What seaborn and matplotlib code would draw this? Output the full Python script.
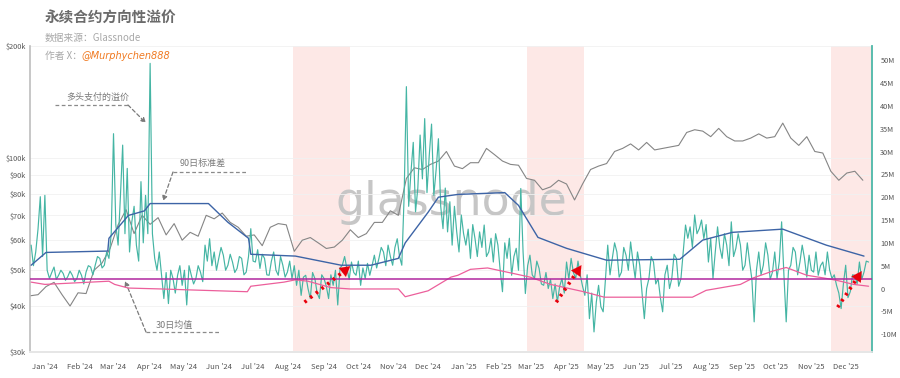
import matplotlib
matplotlib.use("Agg")
import pandas as pd
import matplotlib.pyplot as plt
import matplotlib.dates as mdates
from matplotlib.lines import Line2D
from matplotlib.ticker import FixedLocator, FuncFormatter, MultipleLocator, NullLocator
import seaborn as sns


# =============================================================================
# Data
# =============================================================================

# BTC price, $k, weekly from 2023-12-19
btc_price = [42.5, 42.8, 45.0, 46.2, 42.8, 39.9, 43.3,
             43.1, 49.8, 52.1, 57.0,
             66.0, 72.5, 62.5, 70.0,
             66.2, 69.0, 62.0, 66.5, 60.0,
             63.0, 61.5, 70.0, 68.5,
             71.0, 67.0, 65.0, 61.5,
             62.0, 58.0, 65.0, 66.5, 66.0,
             56.0, 60.0, 61.0, 59.0,
             57.0, 57.5, 60.0, 64.0,
             61.0, 62.5, 67.0, 67.0, 72.0,
             70.0, 88.0, 94.0, 93.0,
             96.0, 98.0, 104.0, 95.0, 93.5,
             97.0, 97.0, 106.0, 102.0,
             98.0, 96.0, 95.5, 88.0,
             87.0, 82.0, 83.5, 87.0,
             85.0, 77.0, 85.0, 93.0, 95.0,
             96.5, 104.0, 106.0, 109.0,
             105.0, 110.0, 105.0, 106.0,
             107.0, 108.0, 117.0, 119.0, 118.0,
             114.0, 120.0, 114.0, 111.0,
             111.0, 113.0, 116.0, 113.0, 114.0,
             124.0, 113.0, 108.0, 114.0,
             104.0, 103.0, 92.0, 87.0,
             91.0, 92.0, 87.0]

# directional premium paid by longs, $M, every 2 days from 2023-12-20
premium = [
    9.5, 5.0, 8.0, 13.0, 20.1, 7.0, 20.4, 4.0, 2.2, 3.5,
    4.7, 2.0, 2.9, 4.0, 3.3, 1.8, 2.6, 3.8, 2.9, 1.5,
    2.2, 4.0, 2.9, 1.0, 3.6, 5.0, 4.7, 3.0, 5.1, 7.0,
    6.6, 4.5, 5.1, 8.0, 6.6, 12.0, 33.9, 14.0, 9.5, 20.0,
    31.4, 12.0, 26.3, 8.0, 14.6, 18.0, 9.5, 6.0, 23.4, 10.0,
    20.4, 12.0, 49.3, 12.0, 6.6, 4.0, 8.0, 3.0, -2.2, 3.5,
    -3.3, 4.0, 2.2, -1.0, 2.9, 5.0, 0.7, 4.0, -3.6, 5.0,
    2.9, 1.0, 2.2, 5.0, 3.6, 1.5, 9.5, 6.0, 10.9, 5.0,
    8.0, 4.0, 6.6, 9.0, 7.3, 4.0, 5.1, 7.5, 5.8, 3.5,
    4.4, 7.0, 6.6, 3.0, 3.6, 7.0, 13.1, 6.0, 5.8, 8.5,
    4.4, 7.5, 6.6, 3.0, 2.9, 6.0, 8.0, 4.0, 2.9, 7.0,
    5.1, 2.5, 3.6, 6.0, 2.2, 5.0, 0.7, 4.0, -1.5, 2.5,
    2.9, 0.0, -2.2, 3.5, 2.2, -1.0, -2.2, 3.0, 2.2, 0.5,
    -2.2, 3.0, 0.7, 4.0, -3.6, 4.5, 5.1, 7.0, 4.4, 2.0,
    5.8, 3.5, 2.9, 6.0, 0.7, 4.5, 2.2, 5.5, 2.9, 5.0,
    7.3, 4.5, 6.6, 9.0, 8.0, 5.0, 9.5, 7.0, 5.1, 9.0,
    10.9, 7.0, 5.1, 20.0, 44.2, 18.0, 25.5, 32.0, 16.8, 22.0,
    33.6, 24.0, 37.2, 21.0, 29.2, 36.0, 20.4, 26.0, 32.8, 18.0,
    13.1, 22.0, 12.4, 19.0, 9.5, 18.0, 12.4, 8.0, 16.1, 12.0,
    9.5, 13.0, 6.6, 14.0, 10.9, 7.0, 12.4, 9.0, 13.9, 7.0,
    8.0, 11.0, 5.8, 12.0, 9.5, 4.0, -0.7, 10.0, 6.6, 11.0,
    2.9, 7.0, 8.8, 4.0, 21.9, 8.0, -1.1, 5.0, 7.3, 3.0,
    2.2, 6.0, 4.4, 1.0, 0.7, 3.5, 0.0, 2.0, -2.2, 1.0,
    -2.9, 0.5, 2.2, -1.0, 5.8, 2.0, 6.6, 3.5, 2.2, 6.0,
    2.9, 0.5, -1.5, 3.0, -6.6, -1.0, -9.5, -3.0, 0.7, -4.0,
    -5.1, 2.0, 9.5, 3.0, 6.6, 10.0, 8.0, 2.5, 3.6, 9.0,
    7.3, 4.0, 10.2, 6.0, 2.2, 8.0, 5.1, -1.0, -6.6, 0.0,
    2.2, 7.0, 5.8, 1.0, 2.2, -2.0, -5.1, 3.0, 5.1, 0.0,
    2.2, 7.5, 6.6, 0.5, 2.2, 8.0, 13.9, 11.0, 13.5, 9.0,
    16.1, 12.0, 13.1, 15.0, 10.9, 14.0, 5.8, 11.0, 2.2, 8.0,
    13.5, 9.0, 6.6, 12.0, 9.5, 5.0, 14.6, 7.0, 8.8, 12.0,
    9.5, 4.0, 5.1, 10.0, 5.8, 2.0, -7.3, 4.0, 8.0, 3.0,
    5.1, 10.0, 7.3, 2.0, 3.6, 8.0, 2.2, 6.0, 14.6, 3.0,
    -7.3, 4.0, 5.1, 9.0, 8.0, 3.0, 5.8, 9.5, 6.6, 2.5,
    7.3, 4.0, 3.6, 8.0, 2.9, 5.0, 5.8, 3.0, 8.0, 4.0,
    2.2, 3.0, 0.7, -1.0, -4.4, 1.0, 5.1, -2.0, -0.7, 3.0,
    2.9, 1.0, 5.8, 2.0, 3.6, 6.0, 5.8]

# 90-day standard deviation, $M
std90_dates = ['2023-12-20', '2024-01-02', '2024-02-25', '2024-02-26', '2024-03-14',
               '2024-03-28', '2024-04-02', '2024-05-23', '2024-06-09', '2024-06-27',
               '2024-06-29', '2024-08-07', '2024-09-16', '2024-10-12', '2024-11-05',
               '2024-11-11', '2024-12-01', '2024-12-10', '2024-12-27', '2025-02-06',
               '2025-02-18', '2025-03-07', '2025-04-01', '2025-05-06', '2025-07-09',
               '2025-07-29', '2025-08-24', '2025-10-07', '2025-11-14', '2025-12-17']
std90 = [5.1, 7.9, 8.2, 11.0, 16.0, 17.0, 18.6, 18.6, 14.5, 11.0,
         7.5, 7.1, 5.1, 5.1, 6.6, 10.0, 16.7, 20.0, 20.6, 21.0,
         18.2, 11.2, 8.8, 6.2, 6.4, 10.6, 12.3, 13.0, 9.5, 7.1]

# 30-day mean, $M
mean30_dates = ['2023-12-20', '2024-01-01', '2024-02-26', '2024-03-02', '2024-03-14',
                '2024-04-12', '2024-05-06', '2024-06-26', '2024-06-29', '2024-07-28',
                '2024-08-07', '2024-08-18', '2024-09-07', '2024-09-24', '2024-11-05',
                '2024-11-11', '2024-12-01', '2024-12-21', '2024-12-27', '2025-01-07',
                '2025-01-22', '2025-02-17', '2025-02-28', '2025-03-18', '2025-04-16',
                '2025-05-04', '2025-06-21', '2025-07-20', '2025-08-01', '2025-08-31',
                '2025-09-11', '2025-09-28', '2025-10-10', '2025-10-28', '2025-11-12',
                '2025-11-23', '2025-12-08', '2025-12-21']
mean30 = [1.4, 0.9, 1.6, 0.9, 0.1, -0.1, -0.3, -0.7, 0.5, 1.4,
          1.9, 1.6, 0.2, -0.1, -0.1, -1.8, -0.5, 2.5, 2.9, 4.2,
          4.5, 3.1, 2.5, 0.9, -0.7, -1.9, -1.9, -1.9, -0.4, 0.9,
          2.3, 3.8, 4.6, 2.9, 2.3, 1.8, 0.9, 0.5]

baseline = 2.0  # $M, horizontal reference line

shade_periods = [('2024-08-05', '2024-09-24'),
                 ('2025-02-25', '2025-04-16'),
                 ('2025-11-18', '2025-12-24')]

# red dotted arrows: (start date, start $M, end date, end $M)
red_arrows = [('2024-08-15', -3.0, '2024-09-24', 4.9),
              ('2025-03-23', -3.0, '2025-04-14', 5.1),
              ('2025-11-24', -4.1, '2025-12-15', 3.8)]

price_ticks = [30, 40, 50, 60, 70, 80, 90, 100, 200]


# =============================================================================
# Frames
# =============================================================================

df_price = pd.DataFrame({'date': pd.date_range('2023-12-19', periods=len(btc_price), freq='7D'),
                         'price': btc_price})
df_prem = pd.DataFrame({'date': pd.date_range('2023-12-20', periods=len(premium), freq='2D'),
                        'premium': premium})
df_std = pd.DataFrame({'date': pd.to_datetime(std90_dates), 'std': std90})
df_mean = pd.DataFrame({'date': pd.to_datetime(mean30_dates), 'mean': mean30})


# =============================================================================
# Plot
# =============================================================================

sns.set_theme(style="white")
plt.rcParams['font.family'] = ['Noto Sans CJK SC', 'DejaVu Sans']

W, H = 900, 378
fig = plt.figure(figsize=(9, 3.78), dpi=100)
ax = fig.add_axes([30 / W, 26 / H, 842 / W, 306 / H])


def fxy(px, py):
    return (px / W, 1 - py / H)


for s, e in shade_periods:
    ax.axvspan(pd.Timestamp(s), pd.Timestamp(e), color='#fde8e6', lw=0, zorder=0)

ax.text(0.5, 0.49, 'glassnode', transform=ax.transAxes, ha='center', va='center',
        fontsize=33, color='#c6c6c6', family='DejaVu Sans', zorder=0.5)

sns.lineplot(data=df_price, x='date', y='price', ax=ax, color='#858585', lw=0.8, zorder=2)
ax.set_yscale('log')
ax.set_ylim(30, 200)
ax.yaxis.set_major_locator(FixedLocator(price_ticks))
ax.yaxis.set_minor_locator(NullLocator())
ax.yaxis.set_major_formatter(FuncFormatter(lambda v, p: f'${int(v)}k'))
ax.yaxis.grid(True, color='#f1f1f1', lw=0.6)

ax2 = ax.twinx()
sns.lineplot(data=df_prem, x='date', y='premium', ax=ax2, color='#45b5a4', lw=0.85, zorder=3)
sns.lineplot(data=df_std, x='date', y='std', ax=ax2, color='#3d64a6', lw=1.0, zorder=4)
sns.lineplot(data=df_mean, x='date', y='mean', ax=ax2, color='#ec5f9b', lw=0.9, zorder=4)
ax2.axhline(baseline, color='#b0279f', lw=1.1, zorder=4)
ax2.set_ylim(-13.9, 53.1)
ax2.yaxis.set_major_locator(MultipleLocator(5))
ax2.yaxis.set_major_formatter(FuncFormatter(lambda v, p: '0' if abs(v) < 1e-9 else f'{int(v)}M'))

ax.set_xlim(pd.Timestamp('2023-12-19'), pd.Timestamp('2025-12-24'))
ax.xaxis.set_major_locator(mdates.MonthLocator())
ax.xaxis.set_major_formatter(mdates.DateFormatter("%b '%y"))

for a in (ax, ax2):
    a.set_xlabel('')
    a.set_ylabel('')
    a.spines['top'].set_visible(False)
    a.spines['bottom'].set_color('#e6e6e6')
    a.spines['left'].set_visible(False)
    a.spines['right'].set_visible(False)
ax.spines['left'].set_visible(True)
ax.spines['left'].set_color('#bdbdbd')
ax.spines['left'].set_linewidth(1.2)
ax2.spines['right'].set_visible(True)
ax2.spines['right'].set_color('#4cb8a8')
ax2.spines['right'].set_linewidth(1.3)

ax.tick_params(axis='x', labelsize=5.5, colors='#555555', length=2, color='#e0e0e0', pad=6)
ax.tick_params(axis='y', labelsize=5.3, colors='#555555', length=0, pad=3)
ax2.tick_params(axis='y', labelsize=5.3, colors='#555555', length=0, pad=6)

# red dotted arrows
for sd, sv, ed, ev in red_arrows:
    x0, x1 = mdates.date2num(pd.Timestamp(sd)), mdates.date2num(pd.Timestamp(ed))
    ax2.plot([x0, x0 + 0.88 * (x1 - x0)], [sv, sv + 0.88 * (ev - sv)],
             color='#e8000b', lw=2.6, ls=(0, (0.7, 1.3)), zorder=6)
    ax2.annotate('', xy=(x1, ev), xytext=(x0 + 0.75 * (x1 - x0), sv + 0.75 * (ev - sv)),
                 arrowprops=dict(arrowstyle='-|>,head_length=0.8,head_width=0.45',
                                 color='#e8000b', lw=0.1, mutation_scale=9,
                                 shrinkA=0, shrinkB=0), zorder=6)

# dashed call-outs
callouts = [
    ('多头支付的溢价', (98, 97), [(55, 105), (128, 105)], (128, 105), (146, 123)),
    ('90日标准差', (203, 163), [(173, 172), (246, 172)], (173, 172), (163, 201)),
    ('30日均值', (174, 325), [(146, 332), (221, 332)], (146, 332), (125, 281)),
]
for label, tpos, seg, tail, head in callouts:
    fig.text(*fxy(*tpos), label, fontsize=6.5, color='#7a7a7a', ha='center', va='center')
    (xa, ya), (xb, yb) = fxy(*seg[0]), fxy(*seg[1])
    fig.add_artist(Line2D([xa, xb], [ya, yb], transform=fig.transFigure,
                          color='#8a8a8a', lw=0.9, ls=(0, (3, 2))))
    ax.annotate('', xy=fxy(*head), xytext=fxy(*tail), xycoords='figure fraction',
                textcoords='figure fraction',
                arrowprops=dict(arrowstyle='-|>', color='#7a7a7a', lw=0.9,
                                ls=(0, (3, 2)), mutation_scale=7, shrinkA=0, shrinkB=0))

# titles
fig.text(*fxy(45, 18), '永续合约方向性溢价', fontsize=10.5, fontweight='bold',
         color='#6b6b6b', ha='left', va='center')
fig.text(*fxy(45, 38), '数据来源：Glassnode', fontsize=7, color='#a8a8a8', ha='left', va='center')
fig.text(*fxy(45, 56), '作者 X：', fontsize=7, color='#a8a8a8', ha='left', va='center')
fig.text(*fxy(81, 56), '@Murphychen888', fontsize=7, color='#f07a22', ha='left', va='center',
         style='italic', family='DejaVu Sans')

plt.savefig('out.png', dpi=100)
